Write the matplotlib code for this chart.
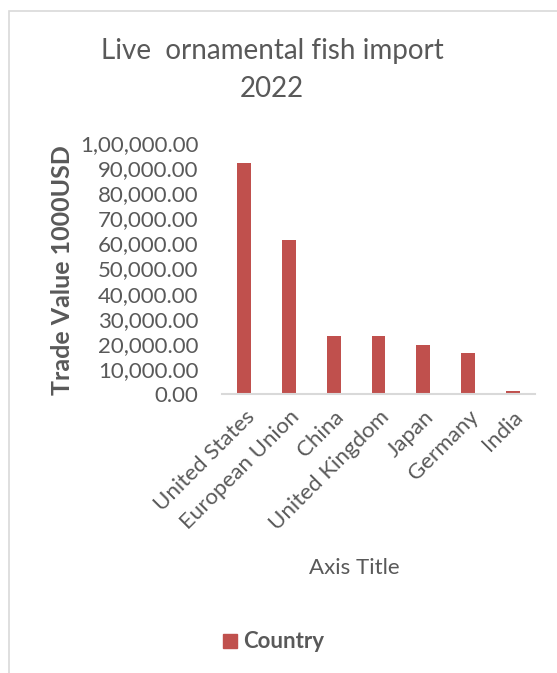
import matplotlib.pyplot as plt
from matplotlib.ticker import FuncFormatter
from matplotlib.patches import Rectangle

countries = ["United States", "European Union", "China", "United Kingdom",
             "Japan", "Germany", "India"]
values = [91900, 61400, 23100, 23000, 19400, 16200, 1300]
yticks = list(range(0, 100001, 10000))

plt.rcParams['font.family'] = ['Lato', 'DejaVu Sans']
grey = "#595959"
bar_col = "#C0504D"


def indian_fmt(v, pos=None):
    s = f"{int(round(v))}"
    if len(s) > 3:
        head, tail = s[:-3], s[-3:]
        parts = []
        while len(head) > 2:
            parts.insert(0, head[-2:])
            head = head[:-2]
        if head:
            parts.insert(0, head)
        s = ",".join(parts) + "," + tail
    return s + ".00"


fig = plt.figure(figsize=(5.57, 6.73), dpi=100)
fig.patches.append(Rectangle((9 / 557, -0.1), 1.2, (673 - 11) / 673 + 0.1,
                             transform=fig.transFigure, fill=False,
                             edgecolor="#D9D9D9", linewidth=1.2))

ax = fig.add_axes([222 / 557, 279 / 673, 313 / 557, 251 / 673])
x = range(len(countries))
ax.bar(x, values, width=0.31, color=bar_col, zorder=2)
ax.set_xlim(-0.5, len(countries) - 0.5)
ax.set_ylim(0, 100000)
ax.set_yticks(yticks)
ax.yaxis.set_major_formatter(FuncFormatter(indian_fmt))
ax.set_xticks(list(x))
ax.set_xticklabels(countries, rotation=45, ha="right", va="top",
                   rotation_mode="anchor")

for side in ["top", "right", "left"]:
    ax.spines[side].set_visible(False)
ax.spines["bottom"].set_color("#D9D9D9")
ax.spines["bottom"].set_linewidth(1.5)
ax.tick_params(axis="both", length=0, colors=grey, labelsize=16)
ax.tick_params(axis="y", pad=17)
ax.tick_params(axis="x", pad=9)

fig.text(272 / 557, 1 - 51 / 673, "Live  ornamental fish import", ha="center",
         va="center", fontsize=20, color=grey)
fig.text(272 / 557, 1 - 89 / 673, "2022", ha="center", va="center",
         fontsize=20, color=grey)
fig.text(62 / 557, 1 - 270 / 673, "Trade Value 1000USD", rotation=90,
         ha="center", va="center", fontsize=18, fontweight="bold", color=grey)
fig.text(354 / 557, 1 - 568 / 673, "Axis Title", ha="center", va="center",
         fontsize=16, color=grey)

fig.patches.append(Rectangle((223 / 557, 1 - 648 / 673), 14 / 557, 14 / 673,
                             transform=fig.transFigure, color=bar_col))
fig.text(243 / 557, 1 - 641 / 673, "Country", ha="left", va="center",
         fontsize=16, fontweight="bold", color=grey)

fig.savefig("out.png", dpi=100)
